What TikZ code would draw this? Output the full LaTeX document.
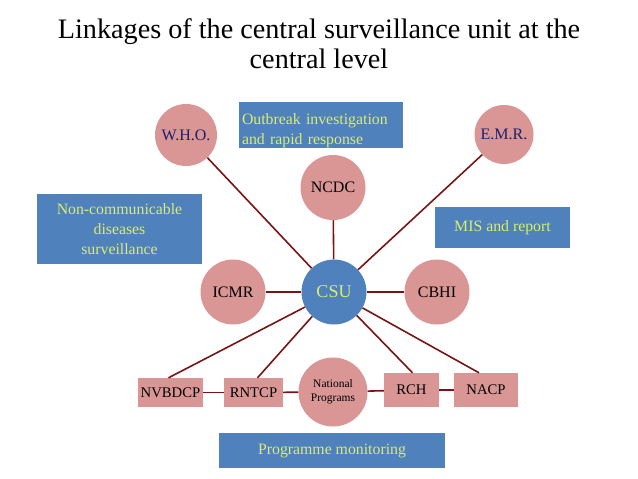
\documentclass[tikz,border=0pt]{standalone}
\usepackage{fontspec}
\setmainfont{Liberation Serif}
\definecolor{pinkc}{RGB}{217,150,148}
\definecolor{bluec}{RGB}{79,129,189}
\definecolor{linec}{RGB}{120,20,20}
\definecolor{ytext}{RGB}{218,238,105}
\definecolor{navy}{RGB}{30,30,110}
\tikzset{
  circ/.style={circle,fill=pinkc,minimum size=64pt,inner sep=0pt,font=\fontsize{16}{18}\selectfont},
  rbox/.style={rectangle,fill=pinkc,minimum height=30pt,inner sep=0pt,font=\fontsize{14.7}{16}\selectfont},
  bbox/.style={rectangle,fill=bluec,inner sep=0pt,text=ytext,font=\fontsize{15.8}{20}\selectfont},
  link/.style={draw=linec,line width=1.6pt}
}
\begin{document}
\begin{tikzpicture}[x=1pt,y=-1pt]
\useasboundingbox (0,0) rectangle (638,479);
% title
\node[font=\fontsize{28.2}{30}\selectfont,align=center,anchor=base] (title) at (319,68) {Linkages of the central surveillance unit at the\\central level};
% blue boxes
\node[bbox,minimum width=164pt,minimum height=44pt,text width=158pt,align=left] (outb) at (321,125) {\rule{0pt}{22pt}Outbreak investigation\\and rapid response};
\node[bbox,minimum width=165pt,minimum height=70pt,align=center] (ncd) at (119.5,229) {Non-communicable\\diseases\\surveillance};
\node[bbox,minimum width=135pt,minimum height=41pt,align=center] (mis) at (502.5,227.5) {MIS and report};
\node[bbox,minimum width=226pt,minimum height=35pt,align=center] (prog) at (332,450.5) {Programme monitoring};
% circles
\node[circ,minimum size=62pt,text=navy] (who) at (186,135) {W.H.O.};
\node[circ,minimum size=59pt,text=navy] (emr) at (504,134.5) {E.M.R.};
\node[circ,minimum size=65pt] (ncdc) at (333,187.5) {NCDC};
\node[circ,minimum size=65pt] (icmr) at (233,292) {ICMR};
\node[circ,minimum size=65pt] (cbhi) at (437,292) {CBHI};
\node[circ,minimum size=65pt,fill=bluec,text=ytext,font=\fontsize{18}{20}\selectfont] (csu) at (334,292) {CSU};
\node[circ,minimum size=69pt,align=center,font=\fontsize{11.5}{14}\selectfont] (natp) at (333,392) {National\\Programs};
% bottom row boxes
\node[rbox,minimum width=65pt,minimum height=29pt] (nvbdcp) at (170.5,392.5) {NVBDCP};
\node[rbox,minimum width=59pt,minimum height=29pt] (rntcp) at (253.5,392.5) {RNTCP};
\node[rbox,minimum width=55pt,minimum height=34pt] (rch) at (411.5,390) {RCH};
\node[rbox,minimum width=64pt,minimum height=34pt] (nacp) at (486,390) {NACP};
% connectors
\draw[link] (csu) -- (who);
\draw[link] (csu) -- (emr);
\draw[link] (csu) -- (ncdc);
\draw[link] (csu) -- (icmr);
\draw[link] (csu) -- (cbhi);
\draw[link] (csu) -- ([xshift=-2pt]nvbdcp.north);
\draw[link] (csu) -- ([xshift=4pt]rntcp.north);
\draw[link] (csu) -- ([xshift=1pt]rch.north);
\draw[link] (csu) -- ([xshift=-7pt]nacp.north);
\draw[link] (nvbdcp) -- (rntcp);
\draw[link] (rntcp) -- (natp);
\draw[link] (natp) -- (rch);
\draw[link] (rch) -- (nacp);
\end{tikzpicture}
\end{document}
